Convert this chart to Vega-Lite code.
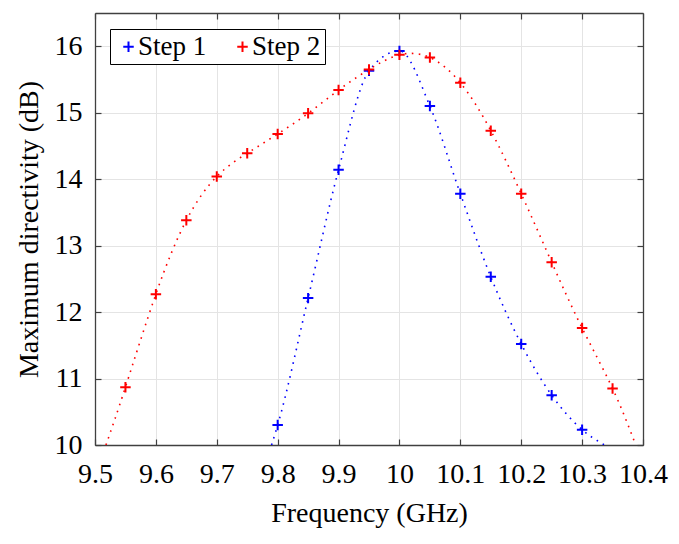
{
  "$schema": "https://vega.github.io/schema/vega-lite/v6.json",
  "width": 548,
  "height": 432,
  "autosize": "none",
  "padding": {"left": 95, "top": 13, "right": 36, "bottom": 99},
  "config": {"font": "Liberation Serif", "view": {"stroke": null},
             "axis": {"labelFont": "Liberation Serif", "titleFont": "Liberation Serif"},
             "legend": {"labelFont": "Liberation Serif"}},
  "data": {
    "values": [
      {"series": "Step 1", "kind": "curve", "f": 9.79, "d": 10.0},
      {"series": "Step 1", "kind": "point", "f": 9.8, "d": 10.30},
      {"series": "Step 1", "kind": "point", "f": 9.85, "d": 12.21},
      {"series": "Step 1", "kind": "point", "f": 9.9, "d": 14.14},
      {"series": "Step 1", "kind": "point", "f": 9.95, "d": 15.63},
      {"series": "Step 1", "kind": "point", "f": 10.0, "d": 15.93},
      {"series": "Step 1", "kind": "point", "f": 10.05, "d": 15.10},
      {"series": "Step 1", "kind": "point", "f": 10.1, "d": 13.78},
      {"series": "Step 1", "kind": "point", "f": 10.15, "d": 12.53},
      {"series": "Step 1", "kind": "point", "f": 10.2, "d": 11.52},
      {"series": "Step 1", "kind": "point", "f": 10.25, "d": 10.75},
      {"series": "Step 1", "kind": "point", "f": 10.3, "d": 10.23},
      {"series": "Step 1", "kind": "curve", "f": 10.337, "d": 10.0},
      {"series": "Step 2", "kind": "curve", "f": 9.518, "d": 10.0},
      {"series": "Step 2", "kind": "point", "f": 9.55, "d": 10.87},
      {"series": "Step 2", "kind": "point", "f": 9.6, "d": 12.27},
      {"series": "Step 2", "kind": "point", "f": 9.65, "d": 13.38},
      {"series": "Step 2", "kind": "point", "f": 9.7, "d": 14.04},
      {"series": "Step 2", "kind": "point", "f": 9.75, "d": 14.39},
      {"series": "Step 2", "kind": "point", "f": 9.8, "d": 14.68},
      {"series": "Step 2", "kind": "point", "f": 9.85, "d": 14.99},
      {"series": "Step 2", "kind": "point", "f": 9.9, "d": 15.34},
      {"series": "Step 2", "kind": "point", "f": 9.95, "d": 15.65},
      {"series": "Step 2", "kind": "point", "f": 10.0, "d": 15.87},
      {"series": "Step 2", "kind": "point", "f": 10.05, "d": 15.83},
      {"series": "Step 2", "kind": "point", "f": 10.1, "d": 15.45},
      {"series": "Step 2", "kind": "point", "f": 10.15, "d": 14.73},
      {"series": "Step 2", "kind": "point", "f": 10.2, "d": 13.78},
      {"series": "Step 2", "kind": "point", "f": 10.25, "d": 12.75},
      {"series": "Step 2", "kind": "point", "f": 10.3, "d": 11.76},
      {"series": "Step 2", "kind": "point", "f": 10.35, "d": 10.85},
      {"series": "Step 2", "kind": "curve", "f": 10.388, "d": 10.0}
    ]
  },
  "resolve": {"axis": {"x": "independent", "y": "independent"}},
  "layer": [
    {
      "transform": [{"filter": "datum.series === 'Step 1'"}],
      "mark": {"type": "line", "color": "#0000ff", "strokeWidth": 1.6, "strokeDash": [1.6, 5.4], "strokeCap": "butt", "interpolate": "monotone", "clip": true},
      "encoding": {
        "x": {"field": "f", "type": "quantitative", "scale": {"domain": [9.5, 10.4], "nice": false, "zero": false},
              "axis": {"orient": "top", "labels": false, "title": null, "grid": false, "values": [9.5, 9.6, 9.7, 9.8, 9.9, 10, 10.1, 10.2, 10.3, 10.4], "tickSize": -6, "tickColor": "#404040", "tickWidth": 1.2, "domainColor": "#404040", "domainWidth": 1.3}},
        "y": {"field": "d", "type": "quantitative", "scale": {"domain": [10, 16.5], "nice": false, "zero": false},
              "axis": {"orient": "right", "labels": false, "title": null, "grid": false, "values": [10, 11, 12, 13, 14, 15, 16], "tickSize": -6, "tickColor": "#404040", "tickWidth": 1.2, "domainColor": "#404040", "domainWidth": 1.3}}
      }
    },
    {
      "transform": [{"filter": "datum.series === 'Step 2'"}],
      "mark": {"type": "line", "color": "#ff0000", "strokeWidth": 1.6, "strokeDash": [1.6, 5.4], "strokeCap": "butt", "interpolate": "natural", "clip": true},
      "encoding": {
        "x": {"field": "f", "type": "quantitative", "axis": null},
        "y": {"field": "d", "type": "quantitative", "axis": null}
      }
    },
    {
      "transform": [{"filter": "datum.kind === 'point'"}],
      "mark": {"type": "point", "shape": "M-1,0H1M0,-1V1", "filled": false, "strokeWidth": 2, "size": 110, "opacity": 1},
      "encoding": {
        "x": {"field": "f", "type": "quantitative",
              "axis": {"orient": "bottom", "title": "Frequency (GHz)", "format": "~g", "values": [9.5, 9.6, 9.7, 9.8, 9.9, 10, 10.1, 10.2, 10.3, 10.4], "labelFont": "Liberation Serif", "labelFontSize": 28, "labelColor": "#000", "labelFlush": false, "labelPadding": 21, "titleFont": "Liberation Serif", "titleFontSize": 28, "titleFontWeight": "normal", "titleColor": "#000", "titlePadding": 11, "grid": true, "gridColor": "#e4e4e4", "gridWidth": 1, "tickSize": -6, "tickColor": "#404040", "tickWidth": 1.2, "domainColor": "#404040", "domainWidth": 1.3}},
        "y": {"field": "d", "type": "quantitative",
              "axis": {"orient": "left", "title": "Maximum directivity (dB)", "format": "~g", "values": [10, 11, 12, 13, 14, 15, 16], "labelFont": "Liberation Serif", "labelFontSize": 28, "labelColor": "#000", "labelFlush": false, "labelPadding": 19, "titleFont": "Liberation Serif", "titleFontSize": 28, "titleFontWeight": "normal", "titleColor": "#000", "titlePadding": 11, "grid": true, "gridColor": "#e4e4e4", "gridWidth": 1, "tickSize": -6, "tickColor": "#404040", "tickWidth": 1.2, "domainColor": "#404040", "domainWidth": 1.3}},
        "color": {"field": "series", "type": "nominal",
                  "scale": {"domain": ["Step 1", "Step 2"], "range": ["#0000ff", "#ff0000"]},
                  "legend": {"orient": "none", "legendX": 15, "legendY": 16, "direction": "horizontal", "title": null,
                             "strokeColor": "#000", "fillColor": "#fff", "padding": 4, "symbolOffset": 1, "labelOffset": -4, "columnPadding": 21,
                             "labelFont": "Liberation Serif", "labelFontSize": 27, "labelColor": "#000", "symbolSize": 110, "symbolStrokeWidth": 2, "symbolType": "M-1,0H1M0,-1V1", "zindex": 2}}
      }
    }
  ]
}
